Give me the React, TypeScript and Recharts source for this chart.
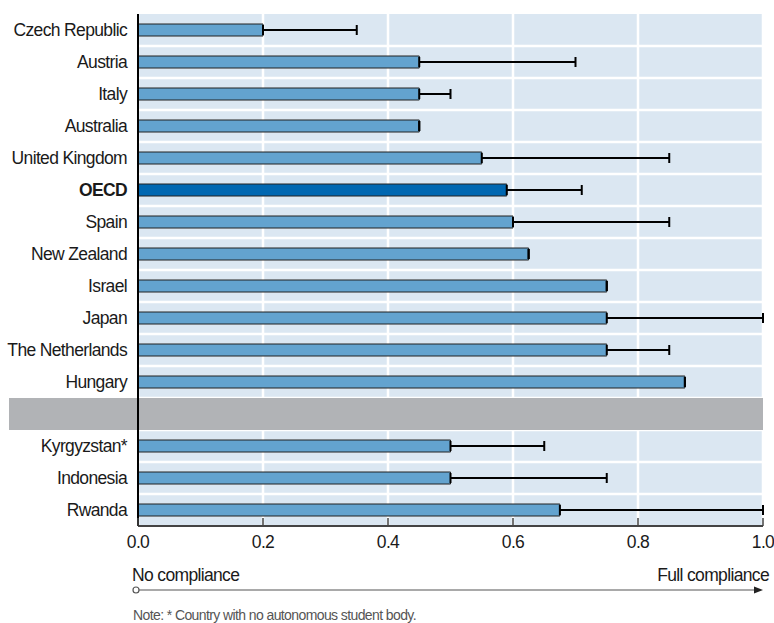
import React from 'react';
import {
  BarChart,
  Bar,
  XAxis,
  YAxis,
  CartesianGrid,
  ErrorBar,
  ReferenceArea,
  Cell,
} from 'recharts';

// Row used as the grey separator between OECD and partner countries
const SEPARATOR = ' ';

const countries = [
  'Czech Republic',
  'Austria',
  'Italy',
  'Australia',
  'United Kingdom',
  'OECD',
  'Spain',
  'New Zealand',
  'Israel',
  'Japan',
  'The Netherlands',
  'Hungary',
  SEPARATOR,
  'Kyrgyzstan*',
  'Indonesia',
  'Rwanda',
];

// Average compliance score
const scores: (number | null)[] = [
  0.2, 0.45, 0.45, 0.45, 0.55, 0.59, 0.6, 0.625, 0.75, 0.75, 0.75, 0.875, null, 0.5, 0.5, 0.675,
];

// Upper end of the range
const upperValues: (number | null)[] = [
  0.35, 0.7, 0.5, 0.45, 0.85, 0.71, 0.85, 0.625, 0.75, 1.0, 0.85, 0.875, null, 0.65, 0.75, 1.0,
];

const xTicks = [0, 0.2, 0.4, 0.6, 0.8, 1.0];

const data = countries.map((name, i) => {
  const s = scores[i];
  const u = upperValues[i];
  return {
    name,
    score: s,
    range: s == null || u == null ? null : [0, Math.max(0, u - s)],
  };
});

const FONT = '"Liberation Sans", Arial, Helvetica, sans-serif';
const LS = -0.65;
const W = 774;
const H = 623;
const MARGIN = { top: 14, right: 11, bottom: 67, left: 0 };
const Y_AXIS_W = 138;
const X_AXIS_H = 30;
const PLOT_LEFT = MARGIN.left + Y_AXIS_W;
const PLOT_RIGHT = W - MARGIN.right;
const LABEL_GUTTER = 129;

const BAR_FILL = '#63a3cf';
const OECD_FILL = '#0067b1';
const PANEL = '#dbe7f2';

const YTick = (props: any) => {
  const { x, y, payload } = props;
  const v = payload.value as string;
  if (v === SEPARATOR) return null;
  return (
    <text
      x={x}
      y={y}
      dy="0.36em"
      textAnchor="end"
      fontFamily={FONT}
      fontSize={17.5}
      letterSpacing={LS}
      fontWeight={v === 'OECD' ? 700 : 400}
      fill="#1a1a1a"
    >
      {v}
    </text>
  );
};

const X_TICK_MARGIN = 10;
const XTick = (props: any) => {
  const { x, y, payload } = props;
  const axisY = y - X_TICK_MARGIN;
  return (
    <g>
      <line x1={x} x2={x} y1={axisY - 8} y2={axisY} stroke="#444" strokeWidth={1.5} />
      <text
        x={x}
        y={y}
        dy="0.71em"
        textAnchor="middle"
        fontFamily={FONT}
        fontSize={17.5}
        letterSpacing={LS}
        fill="#1a1a1a"
      >
        {Number(payload.value).toFixed(1)}
      </text>
    </g>
  );
};

const rowBoundaries = ({ offset }: any) => {
  const n = countries.length;
  const step = offset.height / n;
  return countries.map((_, i) => offset.top + i * step).slice(1);
};

const SeparatorShape = (props: any) => {
  const { x, y, width, height } = props;
  return (
    <rect
      x={x - LABEL_GUTTER}
      y={y}
      width={width + LABEL_GUTTER}
      height={height}
      fill="#b1b3b6"
    />
  );
};

export default function App() {
  const arrowY = 590;
  return (
    <div style={{ position: 'absolute', left: 0, top: 0, width: W, height: H, background: '#fff' }}>
      <BarChart
        width={W}
        height={H}
        data={data}
        layout="vertical"
        margin={MARGIN}
        barCategoryGap={0}
      >
        <CartesianGrid
          fill={PANEL}
          fillOpacity={1}
          stroke="#ffffff"
          strokeWidth={2.5}
          horizontalCoordinatesGenerator={rowBoundaries}
        />
        <ReferenceArea
          y1={SEPARATOR}
          y2={SEPARATOR}
          fill="#b1b3b6"
          fillOpacity={1}
          stroke="none"
          shape={SeparatorShape}
          ifOverflow="visible"
        />
        <XAxis
          type="number"
          domain={[0, 1]}
          ticks={xTicks}
          height={X_AXIS_H}
          tickSize={0}
          tickMargin={X_TICK_MARGIN}
          tick={<XTick />}
          axisLine={{ stroke: '#444', strokeWidth: 2 }}
          tickLine={false}
          interval={0}
        />
        <YAxis
          type="category"
          dataKey="name"
          width={Y_AXIS_W}
          tickSize={0}
          tickMargin={11}
          tick={<YTick />}
          tickLine={false}
          axisLine={{ stroke: '#000', strokeWidth: 2 }}
          interval={0}
        />
        <Bar
          dataKey="score"
          barSize={12}
          fill={BAR_FILL}
          stroke="#222"
          strokeWidth={1}
          isAnimationActive={false}
        >
          {data.map((d) => (
            <Cell key={d.name} fill={d.name === 'OECD' ? OECD_FILL : BAR_FILL} />
          ))}
          <ErrorBar dataKey="range" direction="x" width={5} strokeWidth={2} stroke="#000" />
        </Bar>
      </BarChart>
      <svg
        width={W}
        height={H}
        style={{ position: 'absolute', left: 0, top: 0, pointerEvents: 'none' }}
      >
        <text x={PLOT_LEFT - 6} y={581} fontFamily={FONT} fontSize={17.5} letterSpacing={LS} fill="#1a1a1a">
          No compliance
        </text>
        <text
          x={PLOT_RIGHT + 6}
          y={581}
          textAnchor="end"
          fontFamily={FONT}
          fontSize={17.5}
          letterSpacing={LS}
          fill="#1a1a1a"
        >
          Full compliance
        </text>
        <line x1={PLOT_LEFT + 1} x2={PLOT_RIGHT - 6} y1={arrowY} y2={arrowY} stroke="#555" strokeWidth={1.2} />
        <circle cx={PLOT_LEFT - 2} cy={arrowY} r={3} fill="#fff" stroke="#555" strokeWidth={1.2} />
        <polygon
          points={`${PLOT_RIGHT},${arrowY} ${PLOT_RIGHT - 9},${arrowY - 3.5} ${PLOT_RIGHT - 9},${arrowY + 3.5}`}
          fill="#222"
        />
        <text x={PLOT_LEFT - 5} y={620} fontFamily={FONT} fontSize={14} letterSpacing={-0.6} fill="#555">
          Note: * Country with no autonomous student body.
        </text>
      </svg>
    </div>
  );
}
